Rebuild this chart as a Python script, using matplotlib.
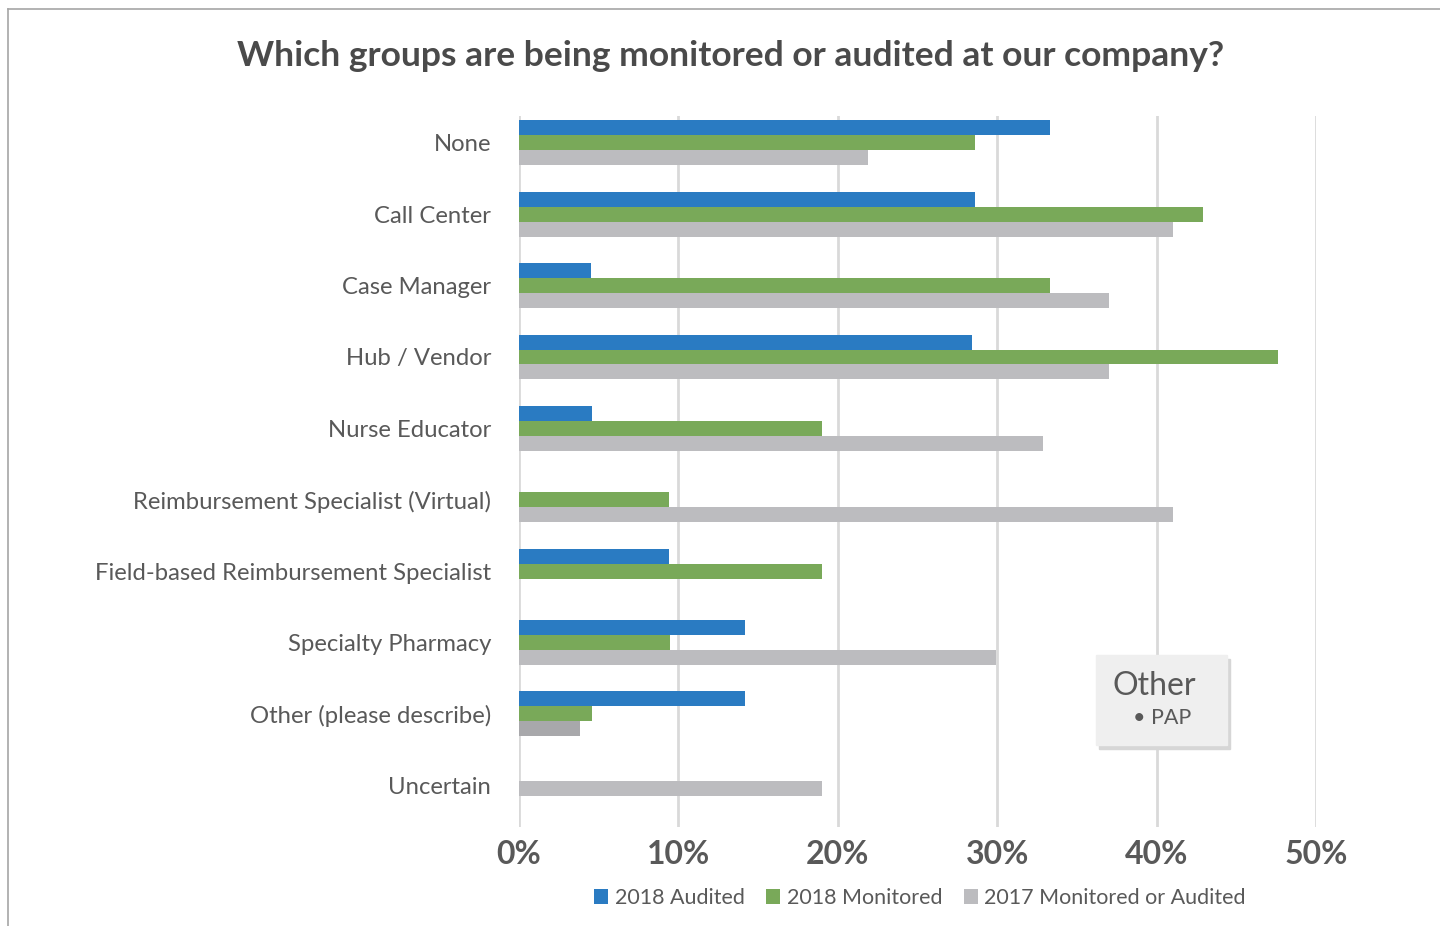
import matplotlib
matplotlib.use('Agg')
import matplotlib.pyplot as plt
import numpy as np
from matplotlib.patches import Rectangle

# 数据
categories = ['None', 'Call Center', 'Case Manager', 'Hub / Vendor', 'Nurse Educator',
              'Reimbursement Specialist (Virtual)', 'Field-based Reimbursement Specialist',
              'Specialty Pharmacy', 'Other (please describe)', 'Uncertain']
audited_2018 = [33.3, 28.6, 4.5, 28.4, 4.6, 0, 9.4, 14.2, 14.2, 0]
monitored_2018 = [28.6, 42.9, 33.3, 47.6, 19.0, 9.4, 19.0, 9.5, 4.6, 0]
either_2017 = [21.9, 41.0, 37.0, 37.0, 32.9, 41.0, 0, 29.9, 3.8, 19.0]
series_names = ['2018 Audited', '2018 Monitored', '2017 Monitored or Audited']
ticks = [0, 10, 20, 30, 40, 50]

c_blue = '#2a7bc2'
c_green = '#79a959'
c_gray = '#bcbcbf'
c_gray_dark = '#a8a8ab'   # Other 那一根颜色深一点
txt = '#595959'

plt.rcParams['font.family'] = ['Lato', 'DejaVu Sans']

fig = plt.figure(figsize=(14.4, 9.26), dpi=100)
ax = fig.add_axes([519 / 1440, 1 - 827 / 926, (1316 - 519) / 1440, (827 - 116) / 926])

y = np.arange(len(categories))
h = 0.209
# 灰色条：Uncertain 只有一根，居中
gray_off = np.array([h] * (len(categories) - 1) + [0.05])
gray_cols = [c_gray] * len(categories)
gray_cols[categories.index('Other (please describe)')] = c_gray_dark

ax.barh(y - h, audited_2018, height=h, color=c_blue, label=series_names[0], zorder=3)
ax.barh(y, monitored_2018, height=h, color=c_green, label=series_names[1], zorder=3)
ax.barh(y + gray_off, either_2017, height=h, color=gray_cols, zorder=3)
ax.barh([0], [0], height=h, color=c_gray, label=series_names[2])

ax.set_xlim(0, 50)
ax.set_ylim(len(categories) - 1 + 0.585, -0.376)
ax.set_yticks(y)
ax.set_yticklabels(categories, fontsize=17.2, color=txt)
ax.set_xticks(ticks)
ax.set_xticklabels([f'{t}%' for t in ticks], fontsize=23, color=txt, fontweight='bold')
ax.tick_params(axis='both', length=0)
ax.tick_params(axis='y', pad=20)
ax.tick_params(axis='x', pad=9)
ax.grid(axis='x', color='#d9d9d9', linewidth=2, zorder=0)
for s in ax.spines.values():
    s.set_visible(False)

fig.text(731 / 1440, 1 - 56 / 926, 'Which groups are being monitored or audited at our company?',
         ha='center', va='center', fontsize=25.5, fontweight='bold', color='#4a4a4a')

leg = fig.legend(loc='center', bbox_to_anchor=(920 / 1440, 1 - 898 / 926), ncol=3, frameon=False,
                 fontsize=15.5, handlelength=0.65, handleheight=0.65, handletextpad=0.3, columnspacing=1.0)
for t in leg.get_texts():
    t.set_color(txt)

# 边框
fig.add_artist(plt.Line2D([8 / 1440, 8 / 1440], [0, 1 - 9 / 926], color='#a6a6a6', lw=1.2))
fig.add_artist(plt.Line2D([8 / 1440, 1], [1 - 9 / 926, 1 - 9 / 926], color='#a6a6a6', lw=1.2))

# Other 注释框
bx, by, bw, bh = 1096 / 1440, 1 - 745 / 926, 131 / 1440, 90 / 926
fig.add_artist(Rectangle((bx + 3 / 1440, by - 4 / 926), bw, bh, color='#d6d6d6', zorder=5))
fig.add_artist(Rectangle((bx, by), bw, bh, color='#efefef', zorder=6))
fig.text(1113 / 1440, 1 - 686 / 926, 'Other', fontsize=23, color=txt, va='center', zorder=7)
fig.text(1133 / 1440, 1 - 718 / 926, '• PAP', fontsize=15.5, color=txt, va='center', zorder=7)

fig.savefig('out.png', dpi=100)
